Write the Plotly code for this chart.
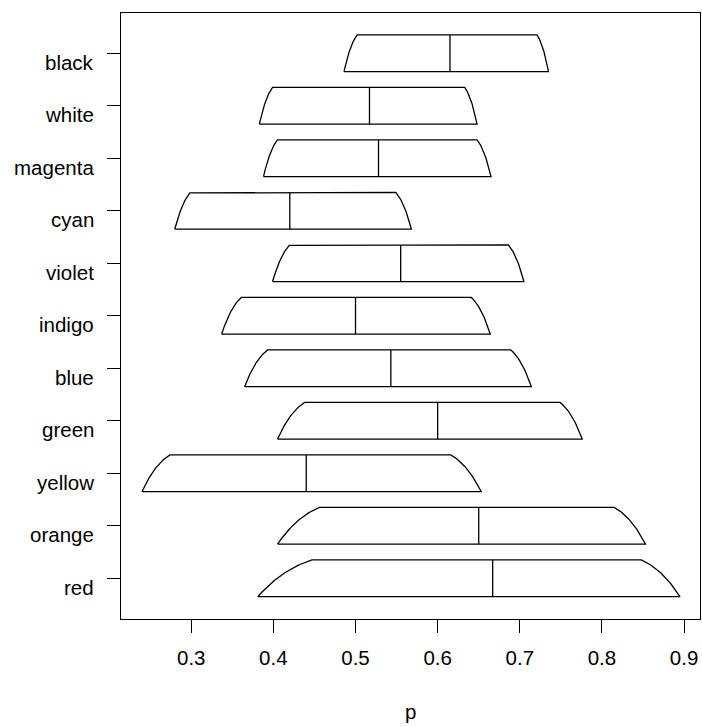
import numpy as np
import plotly.graph_objects as go

# Interval summaries for each colour, bottom row first
categories = ["red", "orange", "yellow", "green", "blue", "indigo",
              "violet", "cyan", "magenta", "white", "black"]
estimate = [0.667, 0.650, 0.440, 0.600, 0.543, 0.500,
            0.555, 0.420, 0.528, 0.517, 0.615]
lower_outer = [0.381, 0.405, 0.240, 0.405, 0.365, 0.337,
               0.399, 0.280, 0.388, 0.383, 0.486]
upper_outer = [0.895, 0.853, 0.653, 0.776, 0.714, 0.664,
               0.705, 0.568, 0.665, 0.648, 0.735]
lower_inner = [0.447, 0.456, 0.274, 0.438, 0.393, 0.361,
               0.420, 0.299, 0.405, 0.399, 0.502]
upper_inner = [0.848, 0.815, 0.616, 0.749, 0.689, 0.641,
               0.686, 0.549, 0.648, 0.633, 0.721]
x_ticks = [0.3, 0.4, 0.5, 0.6, 0.7, 0.8, 0.9]

HALF = 0.35           # half height of each glyph, in row units
FONT = "Liberation Sans, Arial, sans-serif"
FS = 20.5
LW = 1.3


def curved_side(x0, y0, x1, y1, u=0.45, v=0.75, n=40):
    """Quadratic Bezier from (x0, y0) to (x1, y1) bulging outwards."""
    cx = x0 + u * (x1 - x0)
    cy = y0 + v * (y1 - y0)
    t = np.linspace(0.0, 1.0, n)
    xs = (1 - t) ** 2 * x0 + 2 * (1 - t) * t * cx + t ** 2 * x1
    ys = (1 - t) ** 2 * y0 + 2 * (1 - t) * t * cy + t ** 2 * y1
    return list(xs), list(ys)


fig = go.Figure()

for i, name in enumerate(categories):
    yc = i + 1
    yb, yt = yc - HALF, yc + HALF
    # right side: bottom-right up to top-right
    rx, ry = curved_side(upper_outer[i], yb, upper_inner[i], yt)
    # left side: bottom-left up to top-left, traversed top to bottom
    lx, ly = curved_side(lower_outer[i], yb, lower_inner[i], yt)
    xs = [lower_outer[i]] + rx + lx[::-1]
    ys = [yb] + ry + ly[::-1]
    fig.add_trace(go.Scatter(x=xs, y=ys, mode="lines",
                             line=dict(color="black", width=LW),
                             hoverinfo="skip", showlegend=False))
    fig.add_trace(go.Scatter(x=[estimate[i], estimate[i]], y=[yb, yt],
                             mode="lines",
                             line=dict(color="black", width=LW),
                             name=name, showlegend=False))

# row labels
for i, name in enumerate(categories):
    fig.add_annotation(x=0, xref="paper", y=i + 1, yref="y",
                       text=name, showarrow=False, xanchor="right",
                       yanchor="middle", xshift=-25, yshift=-9,
                       font=dict(family=FONT, size=FS, color="black"))

# axis title
fig.add_annotation(x=0.5, xref="paper", y=0, yref="paper", text="p",
                   showarrow=False, xanchor="center", yanchor="middle",
                   yshift=-92, font=dict(family=FONT, size=FS, color="black"))

fig.update_xaxes(range=[0.2145, 0.9194], tickvals=x_ticks,
                 ticktext=[f"{v:.1f}" for v in x_ticks],
                 ticks="outside", ticklen=13, tickwidth=1, tickcolor="black",
                 ticklabelstandoff=7,
                 showline=True, linecolor="black", linewidth=1, mirror=True,
                 showgrid=False, zeroline=False,
                 tickfont=dict(family=FONT, size=FS, color="black"))
fig.update_yaxes(range=[0.225, 11.768], tickvals=list(range(1, 12)),
                 showticklabels=False,
                 ticks="outside", ticklen=13, tickwidth=1, tickcolor="black",
                 showline=True, linecolor="black", linewidth=1, mirror=True,
                 showgrid=False, zeroline=False)

fig.update_layout(width=702, height=727,
                  margin=dict(l=121, r=2, t=13, b=108),
                  paper_bgcolor="white", plot_bgcolor="white",
                  font=dict(family=FONT, size=FS, color="black"))

fig.write_html("out.html")
